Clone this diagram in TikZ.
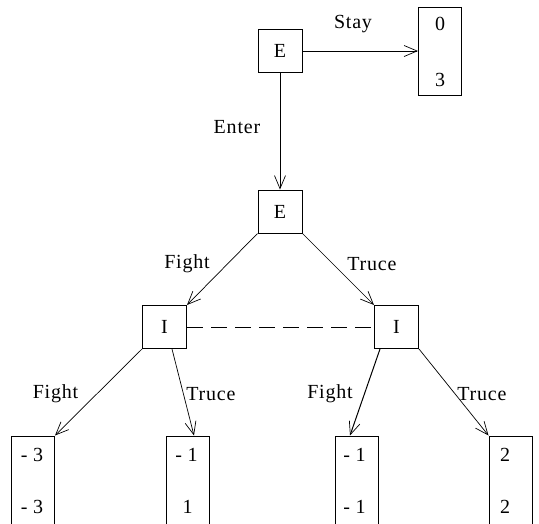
\documentclass[tikz,border=0pt]{standalone}
\usepackage{fontspec}
\setmainfont[LetterSpace=4]{Liberation Serif}
\usetikzlibrary{arrows.meta}
\begin{document}
\begin{tikzpicture}[x=1pt,y=-1pt,
  every node/.style={font=\fontsize{20}{23}\selectfont},
  dec/.style={draw,line width=1pt,rectangle,inner sep=0pt,minimum width=44pt,minimum height=43pt},
  pay/.style={draw,line width=1pt,rectangle,inner sep=0pt,minimum width=43pt,minimum height=88pt},
  lbl/.style={inner sep=0pt},
  edge/.style={line width=0.7pt,-{Straight Barb[length=13pt,width=11pt,line width=0.7pt]}}]
\useasboundingbox (0,0) rectangle (539,523);
\clip (0,0) rectangle (539,523);
% decision nodes
\node[dec] (E1) at (280,51) {E};
\node[dec] (E2) at (280,211.5) {E};
\node[dec] (I1) at (164.5,327) {I};
\node[dec] (I2) at (396.5,327) {I};
% payoff boxes
\node[pay] (P0) at (440,51) {};
\node[pay] (B1) at (33,480) {};
\node[pay] (B2) at (187.5,480) {};
\node[pay] (B3) at (356.5,480) {};
\node[pay] (B4) at (510.5,480) {};
% payoff texts
\node[lbl] (p0a) at (440,24) {0};
\node[lbl] (p0b) at (440,80) {3};
\node[lbl] (b1a) at (32,455) {- 3};
\node[lbl] (b1b) at (32,507) {- 3};
\node[lbl] (b2a) at (186.5,455) {- 1};
\node[lbl] (b2b) at (187.5,507) {1};
\node[lbl] (b3a) at (354.5,455) {- 1};
\node[lbl] (b3b) at (354.5,507) {- 1};
\node[lbl] (b4a) at (505,455) {2};
\node[lbl] (b4b) at (505,507) {2};
% edge labels
\node[lbl] (lstay) at (353,24) {Stay};
\node[lbl] (lenter) at (237,127) {Enter};
\node[lbl] (lf1) at (187,264) {Fight};
\node[lbl] (lt1) at (372,264) {Truce};
\node[lbl] (lf2) at (55.5,394) {Fight};
\node[lbl] (lt2) at (211,394) {Truce};
\node[lbl] (lf3) at (330,394) {Fight};
\node[lbl] (lt3) at (482,394) {Truce};
% connectors
\draw[edge] (E1.east) -- (P0.west);
\draw[edge] (E1.south) -- (E2.north);
\draw[edge] (E2.south west) -- (I1.north east);
\draw[edge] (E2.south east) -- (I2.north west);
\draw[line width=0.7pt,dash pattern=on 16pt off 8pt] (I1.east) -- (I2.west);
\draw[edge] (I1.south west) -- (B1.north east);
\draw[edge] ([xshift=7.5pt]I1.south) -- ([xshift=6.5pt]B2.north);
\draw[edge,line width=1pt] ([xshift=-16.5pt]I2.south) -- ([xshift=-6.5pt]B3.north);
\draw[edge] (I2.south east) -- (B4.north west);
\end{tikzpicture}
\end{document}
